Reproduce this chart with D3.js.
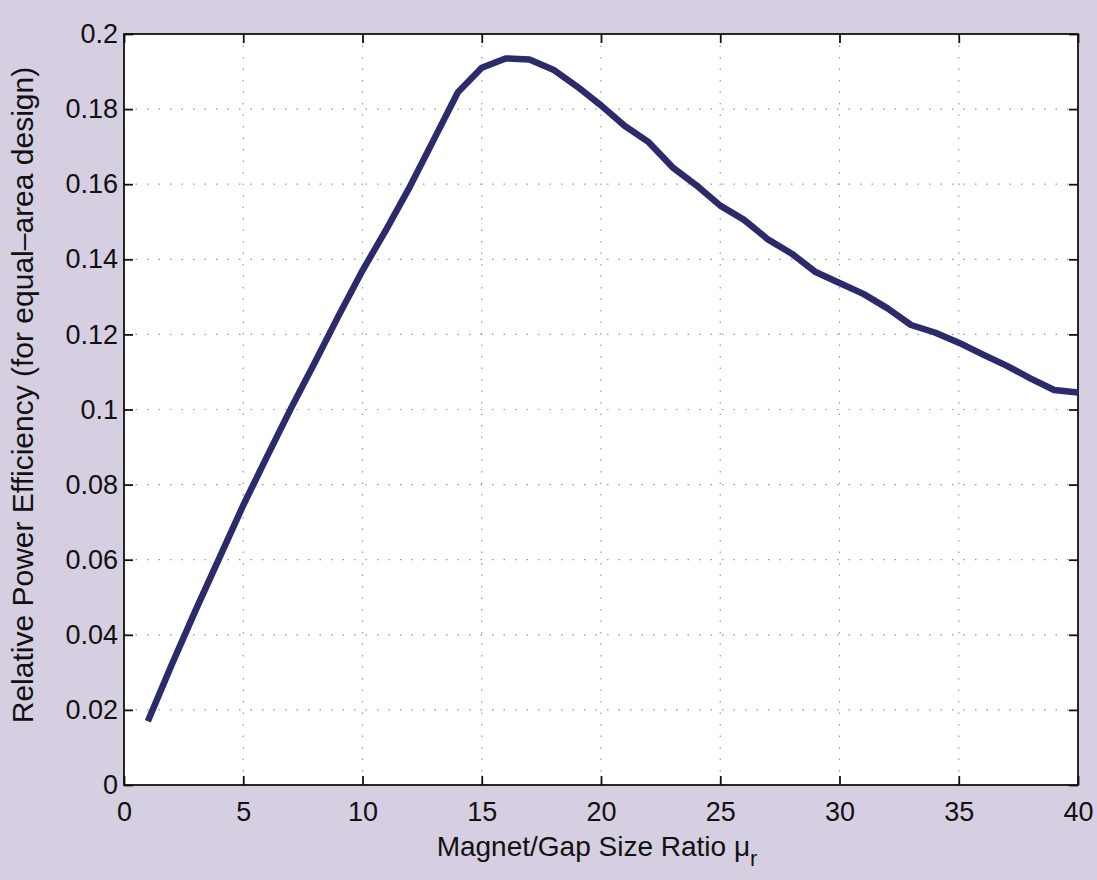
<!DOCTYPE html>
<html>
<head>
<meta charset="utf-8">
<script src="https://cdn.jsdelivr.net/npm/d3@7"></script>
<style>
  html, body { margin: 0; padding: 0; background: #d6cee1; }
  svg { display: block; }
  text { font-family: "Liberation Sans", Arial, Helvetica, sans-serif; fill: #111; }
</style>
</head>
<body>
<svg id="chart" width="1097" height="880"></svg>
<script>
// Data
const ratioMu = [1,2,3,4,5,6,7,8,9,10,11,12,13,14,15,16,17,18,19,20,
                 21,22,23,24,25,26,27,28,29,30,31,32,33,34,35,36,37,38,39,40];
const efficiency = [0.017,0.032,0.0465,0.0605,0.0745,0.0875,0.1003,0.1125,0.125,0.137,
                    0.148,0.1595,0.172,0.1845,0.191,0.1935,0.1932,0.1905,0.186,0.181,
                    0.1755,0.1712,0.1645,0.1597,0.1543,0.1505,0.1453,0.1415,0.1366,0.1337,
                    0.1308,0.127,0.1225,0.1205,0.1178,0.1147,0.1117,0.1083,0.1052,0.1045];
const xTicks = [0,5,10,15,20,25,30,35,40];
const yTicks = [0,0.02,0.04,0.06,0.08,0.1,0.12,0.14,0.16,0.18,0.2];
const xTickLabels = ["0","5","10","15","20","25","30","35","40"];
const yTickLabels = ["0","0.02","0.04","0.06","0.08","0.1","0.12","0.14","0.16","0.18","0.2"];
const xTitle = "Magnet/Gap Size Ratio ";
const yTitle = "Relative Power Efficiency (for equal\u2013area design)";

const svg = d3.select("#chart");
const L = 124, R = 1078, T = 34, B = 785;

const x = d3.scaleLinear().domain([0, 40]).range([L, R]);
const y = d3.scaleLinear().domain([0, 0.2]).range([B, T]);

// plot background
svg.append("rect").attr("x", L).attr("y", T).attr("width", R - L).attr("height", B - T).attr("fill", "#ffffff");

// grid
const grid = svg.append("g");
grid.selectAll(".vg").data(xTicks.slice(1, -1)).enter().append("line")
  .attr("x1", d => x(d)).attr("x2", d => x(d)).attr("y1", T).attr("y2", B)
  .attr("stroke", "#999").attr("stroke-width", 1.2).attr("stroke-dasharray", "1.5,10");
grid.selectAll(".hg").data(yTicks.slice(1, -1)).enter().append("line")
  .attr("y1", d => y(d)).attr("y2", d => y(d)).attr("x1", L).attr("x2", R)
  .attr("stroke", "#999").attr("stroke-width", 1.2).attr("stroke-dasharray", "1.5,10");

// axes with inward ticks
const tickLen = 9;
const xAxisB = d3.axisBottom(x).tickValues(xTicks).tickFormat((d, i) => xTickLabels[i]).tickSizeInner(-tickLen).tickSizeOuter(0).tickPadding(17);
const xAxisT = d3.axisTop(x).tickValues(xTicks).tickFormat("").tickSizeInner(-tickLen).tickSizeOuter(0);
const yAxisL = d3.axisLeft(y).tickValues(yTicks).tickFormat((d, i) => yTickLabels[i]).tickSizeInner(-tickLen).tickSizeOuter(0).tickPadding(6);
const yAxisR = d3.axisRight(y).tickValues(yTicks).tickFormat("").tickSizeInner(-tickLen).tickSizeOuter(0);

function style(g) {
  g.select(".domain").remove();
  g.selectAll(".tick line").attr("stroke", "#111").attr("stroke-width", 1.8);
  g.selectAll(".tick text").attr("font-size", 27).attr("fill", "#111")
    .style("font-family", "'Liberation Sans', Arial, sans-serif");
}
svg.append("g").attr("transform", `translate(0,${B})`).call(xAxisB).call(style);
svg.append("g").attr("transform", `translate(0,${T})`).call(xAxisT).call(style);
svg.append("g").attr("transform", `translate(${L},0)`).call(yAxisL).call(style);
svg.append("g").attr("transform", `translate(${R},0)`).call(yAxisR).call(style);

// frame
svg.append("rect").attr("x", L).attr("y", T).attr("width", R - L).attr("height", B - T)
  .attr("fill", "none").attr("stroke", "#111").attr("stroke-width", 1.8);

// data line
const line = d3.line().x((d, i) => x(ratioMu[i])).y(d => y(d));
svg.append("path").datum(efficiency).attr("d", line)
  .attr("fill", "none").attr("stroke", "#2d2a6c").attr("stroke-width", 6.5)
  .attr("stroke-linejoin", "round").attr("stroke-linecap", "butt");

// x title
const xt = svg.append("text").attr("x", (L + R) / 2 - 4).attr("y", 856)
  .attr("text-anchor", "middle").attr("font-size", 28);
xt.append("tspan").text(xTitle);
xt.append("tspan").text("\u03bc");
xt.append("tspan").attr("font-size", 22).attr("dy", 10).text("r");

// y title
svg.append("text").attr("transform", `translate(33,395) rotate(-90)`)
  .attr("text-anchor", "middle").attr("font-size", 30).text(yTitle);
</script>
</body>
</html>
